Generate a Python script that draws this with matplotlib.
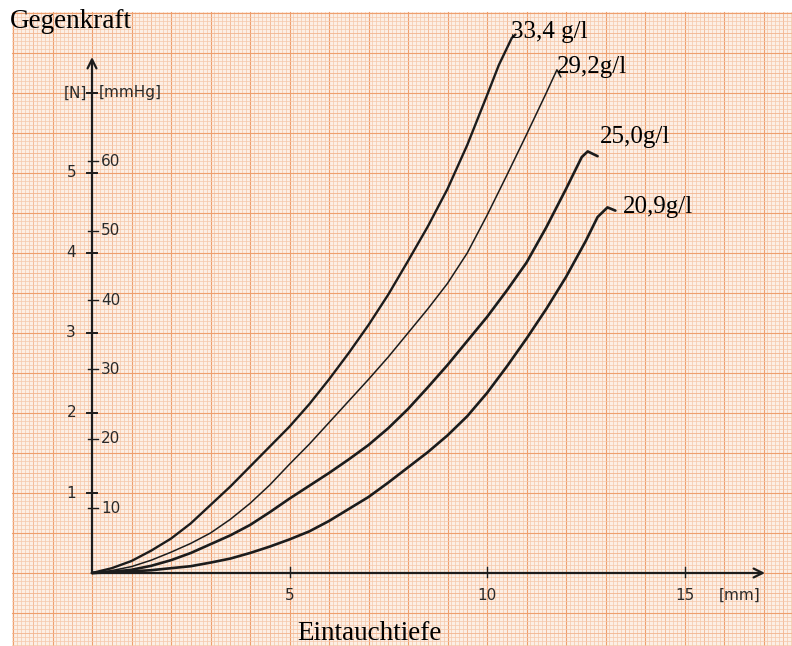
import numpy as np
import matplotlib
matplotlib.use("Agg")
import matplotlib.pyplot as plt

# curves: immersion depth [mm] vs counter force [N]
x_334 = [0, 0.5, 1, 1.5, 2, 2.5, 3, 3.5, 4, 4.5, 5, 5.5, 6, 6.5, 7, 7.5, 8, 8.5, 9, 9.5,
         10, 10.3, 10.63, 10.72]
y_334 = [0, 0.06, 0.15, 0.28, 0.43, 0.62, 0.85, 1.08, 1.33, 1.58, 1.83, 2.11, 2.42, 2.75,
         3.1, 3.48, 3.9, 4.33, 4.8, 5.35, 5.97, 6.35, 6.69, 6.73]

x_292 = [0, 0.5, 1, 1.5, 2, 2.5, 3, 3.5, 4, 4.5, 5, 5.5, 6, 6.5, 7, 7.5, 8, 8.5, 9, 9.5,
         10, 10.5, 11, 11.5, 11.77, 11.87]
y_292 = [0, 0.03, 0.08, 0.16, 0.26, 0.37, 0.5, 0.67, 0.87, 1.1, 1.36, 1.61, 1.88, 2.15,
         2.42, 2.7, 3.0, 3.3, 3.62, 4.0, 4.47, 4.97, 5.48, 6.0, 6.29, 6.2]

x_250 = [0, 0.5, 1, 1.5, 2, 2.5, 3, 3.5, 4, 4.5, 5, 5.5, 6, 6.5, 7, 7.5, 8, 8.5, 9, 9.5,
         10, 10.5, 11, 11.5, 12, 12.2, 12.4, 12.55, 12.8]
y_250 = [0, 0.015, 0.04, 0.09, 0.16, 0.25, 0.36, 0.47, 0.6, 0.76, 0.93, 1.09, 1.25, 1.42,
         1.6, 1.81, 2.05, 2.32, 2.6, 2.9, 3.2, 3.53, 3.88, 4.32, 4.8, 5.0, 5.2, 5.27, 5.21]

x_209 = [0, 0.5, 1, 1.5, 2, 2.5, 3, 3.5, 4, 4.5, 5, 5.5, 6, 6.5, 7, 7.5, 8, 8.5, 9, 9.5,
         10, 10.5, 11, 11.5, 12, 12.5, 12.8, 13.05, 13.25]
y_209 = [0, 0.008, 0.02, 0.035, 0.06, 0.085, 0.13, 0.18, 0.25, 0.33, 0.42, 0.52, 0.65, 0.8,
         0.95, 1.13, 1.32, 1.51, 1.72, 1.96, 2.25, 2.58, 2.93, 3.3, 3.7, 4.15, 4.45, 4.57, 4.53]

labels = ["33,4 g/l", "29,2g/l", "25,0g/l", "20,9g/l"]
x_ticks = [5, 10, 15]
n_ticks = [1, 2, 3, 4, 5]
mmhg_ticks = [10, 20, 30, 40, 50, 60]

# layout: 1 mm = 39.5 px, 1 N = 80 px, origin at pixel (92, 573)
W, H = 792, 646
PX_MM, PX_N = 39.5, 80.0
X0, Y0 = 92, 573

def px(xp, yp):
    return (xp - X0) / PX_MM, (Y0 - yp) / PX_N

fig = plt.figure(figsize=(W / 100, H / 100), dpi=100)
ax = fig.add_axes([0, 0, 1, 1])
xmin, ymax = px(0, 0)
xmax, ymin = px(W, H)
ax.set_xlim(xmin, xmax)
ax.set_ylim(ymin, ymax)
ax.axis("off")

#%% graph paper
px_l, py_t = px(12, 12)
ax.add_patch(plt.Rectangle((px_l, ymin), xmax - px_l, py_t - ymin,
                           color="#fcefe5", zorder=0, lw=0))

def grid_style(k):
    if k % 10 == 0:
        return "#ee9f6e", 0.8
    if k % 5 == 0:
        return "#f2b48e", 0.6
    return "#f6c8aa", 0.5

gx = np.arange(np.ceil(px_l * 10), np.floor(xmax * 10) + 1) / 10
gy = np.arange(np.ceil(ymin * 20), np.floor(py_t * 20) + 1) / 20
for v in gx:
    c, w = grid_style(int(round(v * 10)))
    ax.plot([v, v], [ymin, py_t], color=c, lw=w, zorder=1)
for v in gy:
    c, w = grid_style(int(round(v * 20)))
    ax.plot([px_l, xmax], [v, v], color=c, lw=w, zorder=1)

#%% axes with arrows
ink = "#1c1c1c"
x_end = px(765, 0)[0]
y_end = px(0, 57)[1]
ax.annotate("", xy=(x_end, 0), xytext=(0, 0),
            arrowprops=dict(arrowstyle="->", lw=1.6, color=ink, mutation_scale=16,
                            shrinkA=0, shrinkB=0), zorder=5)
ax.annotate("", xy=(0, y_end), xytext=(0, 0),
            arrowprops=dict(arrowstyle="->", lw=1.6, color=ink, mutation_scale=16,
                            shrinkA=0, shrinkB=0), zorder=5)

tick_dx = 5 / PX_MM
tick_dy = 6 / PX_N
tfont = dict(family=["DejaVu Sans"], fontsize=11, color="#2a2a2a")

for t in x_ticks:
    ax.plot([t, t], [-tick_dy * 0.6, tick_dy], color=ink, lw=1.0, zorder=5)
    ax.text(t, px(0, 595)[1], str(t), ha="center", va="center", **tfont)
ax.text(px(740, 0)[0], px(0, 595)[1], "[mm]", ha="center", va="center", **tfont)

for t in n_ticks + [6]:
    ax.plot([-tick_dx, tick_dx], [t, t], color=ink, lw=1.4, zorder=5)
for t in n_ticks:
    ax.text(px(76, 0)[0], t, str(t), ha="right", va="center", **tfont)

N_PER_MMHG, N_OFF = 0.0868, -0.06
for t in mmhg_ticks:
    yv = t * N_PER_MMHG + N_OFF
    ax.plot([-tick_dx * 0.8, tick_dx * 1.1], [yv, yv], color=ink, lw=1.0, zorder=5)
    ax.text(px(101, 0)[0], yv, str(t), ha="left", va="center", **tfont)

ax.text(px(87, 0)[0], 6, "[N]", ha="right", va="center", **tfont)
ax.text(px(99, 0)[0], 6, "[mmHg]", ha="left", va="center", **tfont)

#%% curves
series = [(x_334, y_334, 1.7), (x_292, y_292, 1.1), (x_250, y_250, 1.9), (x_209, y_209, 1.9)]
for xs, ys, w in series:
    ax.plot(xs, ys, color=ink, lw=w, solid_capstyle="round", solid_joinstyle="round", zorder=6)

serif = dict(family=["Liberation Serif", "DejaVu Serif"], color="black")
label_px = [(511, 32), (557, 67), (600, 137), (623, 207)]
for lab, (lx, ly) in zip(labels, label_px):
    ax.text(*px(lx, ly), lab, ha="left", va="center", zorder=7, fontsize=18, **serif)

ax.text(*px(10, 22), "Gegenkraft", ha="left", va="center", zorder=7, fontsize=19.5, **serif)
ax.text(*px(297, 634), "Eintauchtiefe", ha="left", va="center", zorder=7, fontsize=19.5, **serif)

fig.savefig("out.png", dpi=100)
